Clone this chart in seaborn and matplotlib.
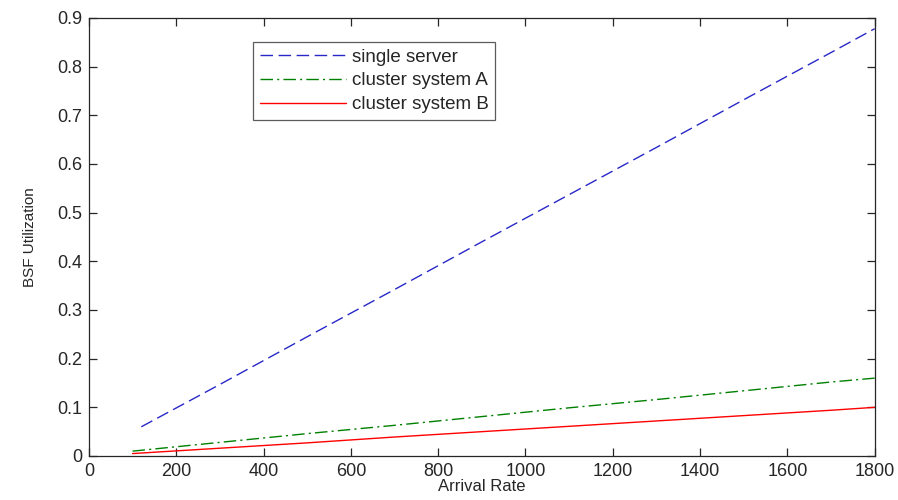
import pandas as pd
import matplotlib.pyplot as plt
import seaborn as sns

# data
rate_single = [120, 300, 500, 700, 900, 1100, 1300, 1500, 1700, 1800]
util_single = [0.06, 0.147, 0.245, 0.342, 0.44, 0.537, 0.634, 0.732, 0.829, 0.878]
rate_cluster = [100, 300, 500, 700, 900, 1100, 1300, 1500, 1700, 1800]
util_a = [0.01, 0.028, 0.046, 0.063, 0.081, 0.099, 0.116, 0.134, 0.152, 0.16]
util_b = [0.005, 0.016, 0.027, 0.039, 0.050, 0.061, 0.072, 0.083, 0.094, 0.1]
labels = ['single server', 'cluster system A', 'cluster system B']

df = pd.concat([
    pd.DataFrame({'rate': rate_single, 'util': util_single, 'series': labels[0]}),
    pd.DataFrame({'rate': rate_cluster, 'util': util_a, 'series': labels[1]}),
    pd.DataFrame({'rate': rate_cluster, 'util': util_b, 'series': labels[2]}),
])

sns.set_theme(style="ticks")
plt.rcParams['font.family'] = ['Liberation Sans', 'DejaVu Sans']
plt.rcParams['xtick.direction'] = 'in'
plt.rcParams['ytick.direction'] = 'in'

fig, ax = plt.subplots(figsize=(8.98, 5.0), dpi=100)
fig.subplots_adjust(left=0.099, right=0.974, top=0.964, bottom=0.088)

palette = {labels[0]: '#2828c8', labels[1]: '#008000', labels[2]: '#ff0000'}
dashes = {labels[0]: (9, 4), labels[1]: (9, 3, 1.5, 3), labels[2]: ''}
sns.lineplot(data=df, x='rate', y='util', hue='series', style='series',
             palette=palette, dashes=dashes, linewidth=1.0, ax=ax)

ax.set_xlim(0, 1800)
ax.set_ylim(0, 0.9)
ax.set_xticks(range(0, 1801, 200))
ax.set_yticks([i / 10 for i in range(10)])
ax.set_yticklabels(['0'] + ['%.1f' % (i / 10) for i in range(1, 10)])
ax.tick_params(labelsize=13, top=True, right=True, length=6, width=0.9, pad=5)
for s in ax.spines.values():
    s.set_linewidth(0.9)
ax.set_xlabel('Arrival Rate', fontsize=12, labelpad=-1)
ax.set_ylabel('BSF Utilization', fontsize=11, labelpad=14)

leg = ax.legend(loc='upper left', bbox_to_anchor=(0.209, 0.945), fontsize=13.5,
                frameon=True, fancybox=False, edgecolor='#333333',
                handlelength=4.6, handletextpad=0.3, borderpad=0.35,
                labelspacing=0.35, borderaxespad=0)
leg.get_frame().set_linewidth(0.9)

plt.savefig('out.png', dpi=100)
